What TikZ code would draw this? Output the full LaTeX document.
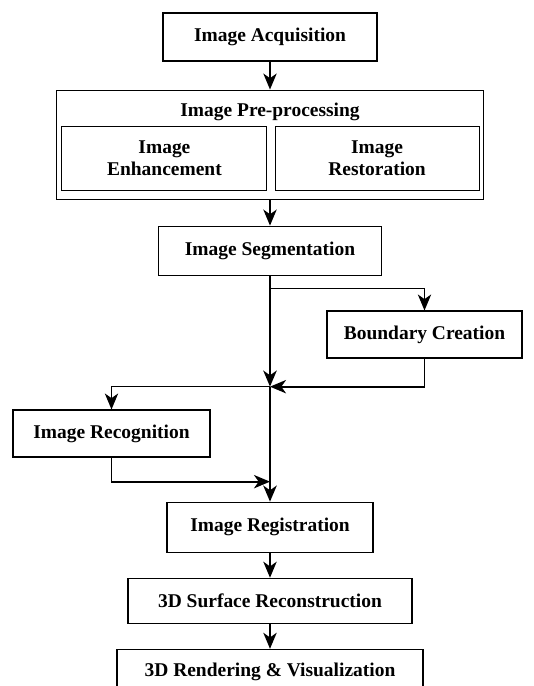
\documentclass[tikz,border=0pt]{standalone}
\usepackage{fontspec}
\setmainfont{Liberation Serif}
\usetikzlibrary{positioning, arrows.meta}
\tikzset{->, >={Stealth[length=12pt, width=10pt, inset=3.5pt]}, node distance = 19pt}

\begin{document}
\begin{tikzpicture}[x=0.75pt, y=-0.75pt,
block/.style ={rectangle, draw=black, line width=0.8pt, fill=white, text centered, font=\bfseries\fontsize{14.6}{16}\selectfont, inner sep=2pt},
title/.style={font=\bfseries\fontsize{14.6}{16}\selectfont, inner sep=0pt},
flow/.style={line width=1.4pt}, spine/.style={line width=2.2pt}, link/.style={line width=0.8pt}]
    \useasboundingbox (0,0) rectangle (533,686);

    \node[block, minimum width=160.5pt, minimum height=36pt] (acq) at (270,37) {Image Acquisition};

    % pre-processing stage with its two sub-steps
    \node[block, minimum width=320.25pt, minimum height=81.75pt, below=21pt of acq] (pre) {};
    \node[title, yshift=-17pt] (pre_title) at (pre.north) {Image Pre-processing};
    \node[block, text width=149.75pt, minimum height=48pt, above left=6.75pt and 1.9pt of pre.south] (enh) {Image\\Enhancement};
    \node[block, text width=149pt, minimum height=48pt, above right=6.75pt and 3.4pt of pre.south] (res) {Image\\Restoration};

    \node[block, minimum width=167.25pt, minimum height=36.75pt, below=19.5pt of pre] (seg) {Image Segmentation};
    \node[block, minimum width=146.25pt, minimum height=35.25pt] (bound) at (424.5,334.5) {Boundary Creation};
    \node[block, minimum width=147.75pt, minimum height=35.25pt] (rec) at (111.5,433.5) {Image Recognition};
    \node[block, minimum width=154.5pt, minimum height=37.5pt, below=169.5pt of seg] (reg) {Image Registration};
    \node[block, minimum width=213pt, minimum height=33.75pt, below=18.75pt of reg] (surf) {3D Surface Reconstruction};
    \node[block, minimum width=229.5pt, minimum height=34.5pt, below=18.75pt of surf] (rend) {3D Rendering \& Visualization};

    % branch points on the main line
    \coordinate (split) at ([yshift=-9.75pt]seg.south);
    \coordinate (join) at ([yshift=-83.25pt]seg.south);
    \coordinate (merge) at ([yshift=-154.5pt]seg.south);

    \draw[flow] (acq) -- (pre);
    \draw[flow] (pre) -- (seg);
    \draw[spine] (seg) -- (join);
    \draw[spine] (join) -- (reg);
    \draw[link] (split) -| (bound);
    \draw[flow] (bound) |- (join);
    \draw[link] (join) -| (rec);
    \draw[flow] (rec) |- (merge);
    \draw[flow] (reg) -- (surf);
    \draw[flow] (surf) -- (rend);
\end{tikzpicture}
\end{document}
